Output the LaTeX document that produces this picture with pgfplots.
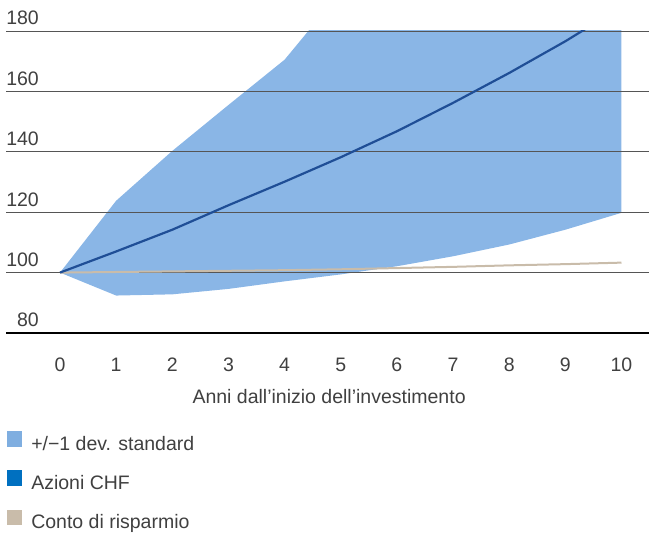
\documentclass[border=0pt]{standalone}
\usepackage{pgfplots}
\pgfplotsset{compat=1.18}
\usepackage{fontspec}
\setmainfont{Liberation Sans}
\definecolor{txt}{HTML}{404040}
\definecolor{band}{HTML}{8AB6E6}
\definecolor{bandleg}{HTML}{7FAEE0}
\definecolor{med}{HTML}{1F4E96}
\definecolor{medleg}{HTML}{0070C0}
\definecolor{sav}{HTML}{C9BCAA}
\definecolor{gridc}{HTML}{555555}
\pgfplotsset{set layers}
\begin{document}
\begin{tikzpicture}
\begin{axis}[
  at={(6bp,202bp)}, anchor=south west,
  scale only axis, width=643bp, height=302bp,
  xmin=-0.962, xmax=10.49, ymin=80, ymax=180,
  clip mode=individual,
  axis y line*=left, y axis line style={draw=none},
  axis x line*=bottom,
  x axis line style={line width=2bp, black, -},
  xtick={0,...,10}, ytick={80,100,...,180},
  major tick length=0pt,
  ymajorgrids, grid style={gridc, line width=0.9bp},
  font=\fontsize{19.5bp}{23bp}\selectfont,
  /pgf/number format/assume math mode=true,
  ticklabel style={text=txt},
  xticklabel style={anchor=base, yshift=-38.7bp, inner sep=0pt},
  yticklabel style={anchor=base east, xshift=33bp, yshift=6bp, inner sep=0pt},
  xlabel={Anni dall’inizio dell’investimento},
  xlabel style={at={(axis description cs:0.5025,0)}, anchor=base, yshift=-70.3bp, inner sep=0pt, text=txt},
  legend style={draw=none, fill=none, at={(axis description cs:0,0)}, anchor=north west,
    xshift=0.5bp, yshift=-98bp, inner sep=0pt, row sep=16bp, column sep=9.7bp,
    nodes={inner sep=0pt, text height=14bp, text depth=4bp, text=txt},
    font=\fontsize{19.5bp}{23bp}\selectfont},
  legend cell align=left,
  legend image code/.code={\fill[#1] (0bp,-0.5bp) rectangle (14.5bp,14bp);},
]
\addplot[on layer=axis background, fill=band, draw=none, forget plot] coordinates {
 (0,100) (1,123.8) (2,140.3) (3,155.5) (4,170.5) (5,193) (6,210) (7,226) (8,243) (9,260) (10,277)
 (10,119.8) (9,114.2) (8,109.3) (7,105.4) (6,102.1) (5,99.4) (4,97.1) (3,94.6) (2,92.8) (1,92.4) (0,100)
} -- cycle;
\addplot[sav, line width=2bp, forget plot] coordinates {
 (0,100) (1,100.2) (2,100.4) (3,100.6) (4,100.8) (5,101.1) (6,101.5) (7,101.9) (8,102.4) (9,102.8) (10,103.3)
};
\addplot[med, line width=2.2bp, forget plot] coordinates {
 (0,100) (1,107) (2,114.2) (3,122.3) (4,130.1) (5,138.2) (6,146.8) (7,156.2) (8,166.1) (9,176.6) (10,188)
};
\addlegendimage{bandleg}
\addlegendentry{+/−1 dev. standard}
\addlegendimage{medleg}
\addlegendentry{Azioni CHF}
\addlegendimage{sav}
\addlegendentry{Conto di risparmio}
\end{axis}
\pgfresetboundingbox
\path[use as bounding box] (0,0) rectangle (649bp,535bp);
\end{tikzpicture}
\end{document}
